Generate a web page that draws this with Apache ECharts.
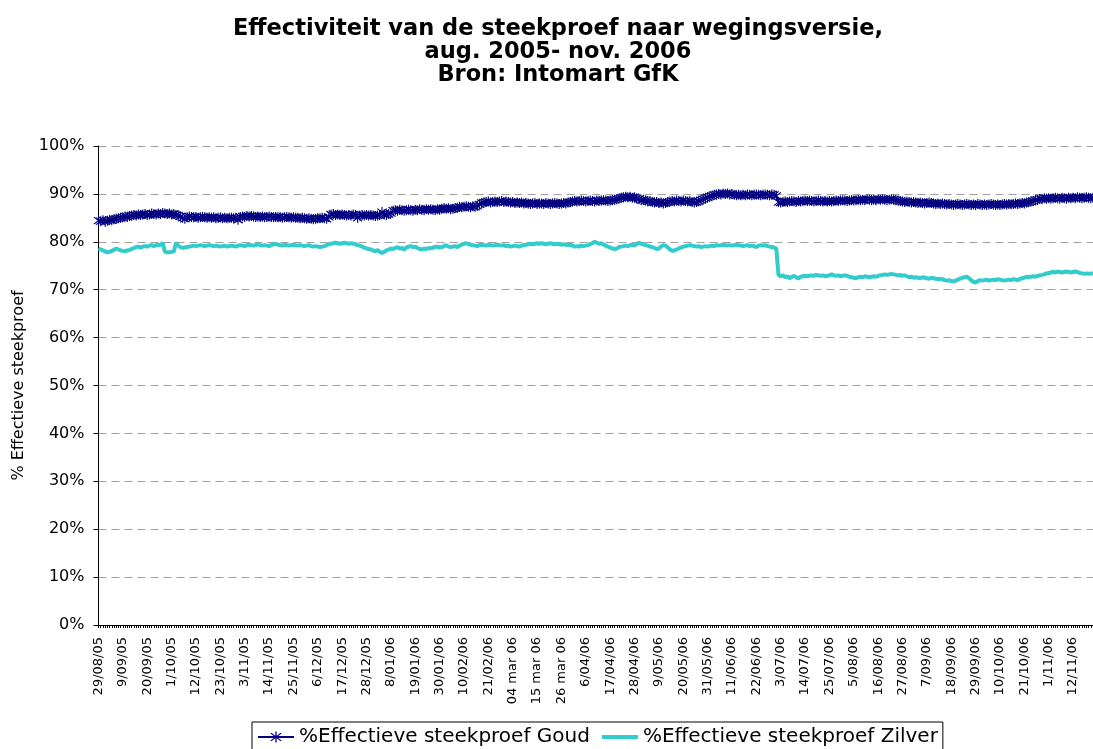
<!DOCTYPE html>
<html>
<head>
<meta charset="utf-8">
<script src="https://cdn.jsdelivr.net/npm/echarts@6/dist/echarts.min.js"></script>
<style>
html,body{margin:0;padding:0;background:#fff;}
#chart{width:1093px;height:749px;}
</style>
</head>
<body>
<div id="chart"></div>
<script>
const titleLines = ['Effectiviteit van de steekproef naar wegingsversie,', 'aug. 2005- nov. 2006', 'Bron: Intomart GfK'];
const seriesNames = ['%Effectieve steekproef Goud', '%Effectieve steekproef Zilver'];
const yAxisName = '% Effectieve steekproef';
const tickLabels = ['29/08/05','9/09/05','20/09/05','1/10/05','12/10/05','23/10/05','3/11/05','14/11/05','25/11/05','6/12/05','17/12/05','28/12/05','8/01/06','19/01/06','30/01/06','10/02/06','21/02/06','04 mar 06','15 mar 06','26 mar 06','6/04/06','17/04/06','28/04/06','9/05/06','20/05/06','31/05/06','11/06/06','22/06/06','3/07/06','14/07/06','25/07/06','5/08/06','16/08/06','27/08/06','7/09/06','18/09/06','29/09/06','10/10/06','21/10/06','1/11/06','12/11/06'];

// daily values, 29/08/05 onwards
const goud = [
84.4,84.3,84.5,84.2,84.4,84.6,84.5,84.7,84.8,84.9,
85.0,85.1,85.3,85.2,85.4,85.5,85.6,85.5,85.7,85.6,
85.7,85.8,85.6,85.7,85.9,85.8,85.7,85.9,85.8,86.0,
85.9,85.8,85.9,85.7,85.8,85.6,85.5,85.3,85.0,84.8,
85.1,85.3,85.2,85.1,85.2,85.0,85.1,85.2,85.1,85.0,
85.1,85.0,85.1,84.9,85.0,85.1,84.9,85.0,84.9,85.0,
85.0,84.9,85.0,84.6,85.2,85.3,85.2,85.4,85.3,85.4,
85.3,85.2,85.3,85.2,85.3,85.1,85.2,85.3,85.2,85.1,
85.2,85.1,85.2,85.0,85.1,85.2,85.1,85.0,85.1,85.0,
85.0,84.9,85.0,84.9,84.8,84.9,84.8,84.7,84.8,84.9,
84.9,85.0,84.9,84.8,85.2,85.7,85.8,85.6,85.7,85.6,
85.7,85.6,85.5,85.6,85.5,85.7,85.6,85.0,85.5,85.6,
85.5,85.6,85.5,85.6,85.5,85.4,85.5,85.6,86.2,85.7,
85.6,85.8,86.0,86.5,86.6,86.5,86.7,86.6,86.5,86.6,
86.7,86.6,86.5,86.7,86.6,86.8,86.7,86.6,86.8,86.7,
86.8,86.7,86.6,86.8,86.7,86.9,87.0,86.9,87.0,86.8,
86.9,87.0,87.1,87.3,87.2,87.3,87.4,87.3,87.2,87.4,
87.3,87.5,87.8,88.1,88.2,88.3,88.4,88.2,88.3,88.4,
88.3,88.4,88.5,88.3,88.4,88.3,88.2,88.3,88.1,88.2,
88.1,88.2,88.0,88.1,88.0,87.9,88.0,88.1,87.9,88.0,
88.0,87.9,88.1,88.0,87.9,88.0,88.1,88.0,87.9,88.0,
88.1,88.0,88.2,88.3,88.4,88.5,88.4,88.5,88.6,88.5,
88.4,88.5,88.6,88.5,88.4,88.6,88.5,88.6,88.7,88.6,
88.5,88.6,88.7,88.8,88.9,89.0,89.2,89.3,89.4,89.3,
89.4,89.2,89.3,89.1,88.9,88.7,88.8,88.6,88.4,88.5,
88.3,88.2,88.3,88.1,88.2,88.0,88.1,88.3,88.4,88.5,
88.4,88.6,88.5,88.4,88.6,88.5,88.4,88.5,88.3,88.2,
88.3,88.5,88.7,88.9,89.1,89.3,89.5,89.6,89.8,89.9,
90.0,89.9,90.1,90.0,90.1,89.9,90.0,89.8,89.7,89.8,
89.7,89.8,89.7,89.9,89.8,89.7,89.8,89.9,89.8,89.7,
89.8,89.9,89.8,89.7,89.9,89.8,89.6,88.3,88.2,88.3,
88.4,88.3,88.4,88.5,88.4,88.3,88.5,88.4,88.5,88.6,
88.5,88.6,88.5,88.4,88.5,88.6,88.5,88.4,88.5,88.4,
88.5,88.4,88.5,88.6,88.5,88.6,88.7,88.6,88.5,88.6,
88.7,88.6,88.7,88.8,88.7,88.8,88.7,88.9,88.8,88.7,
88.8,88.7,88.9,88.8,88.9,88.8,88.7,88.8,88.9,88.8,
88.7,88.6,88.5,88.4,88.3,88.4,88.3,88.2,88.3,88.2,
88.1,88.2,88.1,88.0,88.1,88.2,88.1,88.0,87.9,88.0,
87.9,88.0,87.9,87.8,87.9,87.8,87.7,87.8,87.9,87.8,
87.7,87.8,87.9,87.8,87.7,87.8,87.7,87.9,87.8,87.7,
87.8,87.7,87.8,87.9,87.8,87.7,87.8,87.7,87.8,87.9,
87.8,87.9,87.8,87.9,88.0,87.9,88.0,88.1,88.0,88.2,
88.3,88.4,88.5,88.7,88.8,89.0,88.9,89.1,89.0,89.1,
89.0,89.1,89.2,89.1,89.0,89.2,89.1,89.0,89.2,89.1,
89.2,89.1,89.3,89.2,89.1,89.2,89.3,89.2,89.1,89.2
];
const zilver = [
78.6,78.4,78.2,78.0,77.8,77.9,78.1,78.3,78.6,78.4,
78.2,78.1,78.0,78.2,78.3,78.5,78.7,78.9,79.0,78.8,
79.0,79.1,79.0,79.2,79.3,79.1,79.3,79.4,79.3,79.8,
77.9,77.8,77.8,77.9,78.0,79.8,79.2,78.9,78.7,78.8,
78.9,79.0,79.1,79.2,79.1,79.2,79.3,79.2,79.1,79.2,
79.3,79.2,79.1,79.2,79.1,79.0,79.1,79.2,79.0,79.1,
79.2,79.1,79.0,79.2,79.3,79.2,79.1,79.3,79.4,79.3,
79.2,79.3,79.5,79.3,79.2,79.3,79.2,79.1,79.3,79.5,
79.6,79.4,79.3,79.2,79.4,79.3,79.2,79.3,79.4,79.3,
79.2,79.3,79.2,79.1,79.2,79.3,79.1,79.0,79.1,79.0,
78.9,79.0,79.1,79.3,79.5,79.6,79.7,79.8,79.7,79.6,
79.7,79.8,79.7,79.6,79.7,79.6,79.5,79.3,79.2,79.0,
78.8,78.6,78.5,78.4,78.2,78.0,78.3,77.9,77.7,77.9,
78.2,78.4,78.6,78.5,78.7,78.9,78.6,78.7,78.4,78.8,
79.0,79.1,78.9,79.0,78.7,78.5,78.4,78.6,78.5,78.7,
78.6,78.8,78.9,79.0,78.8,78.9,79.1,79.3,79.0,78.9,
79.0,79.1,78.9,79.2,79.4,79.6,79.7,79.5,79.4,79.3,
79.2,79.1,79.3,79.4,79.3,79.2,79.4,79.3,79.2,79.3,
79.4,79.3,79.2,79.3,79.1,79.2,79.0,79.1,79.2,79.1,
79.0,79.2,79.3,79.4,79.5,79.6,79.5,79.6,79.7,79.6,
79.7,79.6,79.5,79.6,79.7,79.6,79.5,79.6,79.5,79.4,
79.5,79.4,79.3,79.4,79.2,79.0,79.1,79.0,79.2,79.1,
79.2,79.3,79.5,79.7,80.0,79.8,79.6,79.7,79.4,79.2,
79.0,78.8,78.6,78.5,78.6,78.9,79.0,79.1,79.2,79.1,
79.3,79.4,79.2,79.5,79.8,79.6,79.5,79.3,79.2,79.0,
78.9,78.7,78.5,78.6,79.0,79.3,79.2,78.8,78.4,78.1,
78.2,78.4,78.6,78.8,79.0,79.1,79.2,79.3,79.2,79.1,
79.0,79.1,78.9,79.0,79.1,79.0,79.1,79.2,79.1,79.3,
79.2,79.3,79.4,79.3,79.2,79.3,79.2,79.3,79.4,79.3,
79.2,79.1,79.2,79.3,79.1,79.2,79.1,78.9,79.2,79.3,
79.2,79.3,79.1,79.0,78.9,78.8,78.6,73.1,72.8,73.0,
72.6,72.8,72.4,72.7,72.9,72.6,72.3,72.7,72.8,72.9,
72.8,72.9,73.0,72.9,73.1,73.0,72.9,73.0,72.8,72.9,
73.0,73.2,73.0,72.9,73.0,72.8,72.9,73.0,72.9,72.7,
72.6,72.5,72.4,72.6,72.7,72.6,72.8,72.7,72.6,72.7,
72.8,72.7,72.9,73.0,73.1,73.2,73.1,73.2,73.3,73.2,
73.1,73.0,73.1,72.9,73.0,72.8,72.6,72.7,72.5,72.6,
72.5,72.4,72.6,72.5,72.4,72.3,72.5,72.4,72.3,72.2,
72.3,72.2,72.0,71.9,72.0,71.8,71.7,71.9,72.1,72.3,
72.5,72.6,72.7,72.4,72.0,71.6,71.5,71.8,72.0,71.9,
72.0,72.1,71.9,72.0,72.1,72.0,72.2,72.1,72.0,71.9,
72.0,72.1,72.0,72.2,72.1,72.0,72.2,72.4,72.5,72.7,
72.6,72.7,72.8,72.7,72.9,73.0,73.1,73.2,73.4,73.5,
73.6,73.7,73.6,73.8,73.7,73.6,73.7,73.8,73.7,73.6,
73.7,73.8,73.7,73.5,73.4,73.3,73.4,73.3,73.4,73.3
];

// one category per day starting 29 Aug 2005
const categories = goud.map(function (_, i) {
  const d = new Date(Date.UTC(2005, 7, 29 + i));
  return d.getUTCDate() + '/' + String(d.getUTCMonth() + 1).padStart(2, '0') + '/' + String(d.getUTCFullYear()).slice(2);
});

const starPath = 'path://M45 0L55 0L55 100L45 100Z M7 19L14 11L93 81L86 89Z M14 89L7 81L86 11L93 19Z';
const barPath = 'path://M0 0L360 0L360 40L0 40Z';
const FONT = 'DejaVu Sans';

const chart = echarts.init(document.getElementById('chart'), null, {renderer: 'canvas'});
chart.setOption({
  backgroundColor: '#ffffff',
  animation: false,
  title: {
    text: titleLines.join('\n'),
    left: 558,
    top: 18,
    padding: 0,
    textAlign: 'center',
    textStyle: {fontFamily: FONT, fontWeight: 'bold', fontSize: 22.5, lineHeight: 23, color: '#000'}
  },
  legend: {
    data: [
      {name: seriesNames[0]},
      {name: seriesNames[1], icon: barPath}
    ],
    left: 252,
    top: 722,
    padding: [5, 5, 5, 5],
    itemGap: 12,
    itemWidth: 36,
    itemHeight: 14,
    borderColor: '#000',
    borderWidth: 1,
    textStyle: {fontFamily: FONT, fontSize: 20, color: '#000'}
  },
  grid: {left: 98.5, top: 146, width: 1000, height: 479, containLabel: false},
  xAxis: {
    type: 'category',
    data: categories,
    boundaryGap: false,
    axisLine: {lineStyle: {color: '#000', width: 1}},
    axisTick: {show: true, interval: 0, length: 3, lineStyle: {color: '#000', width: 1}},
    axisLabel: {
      interval: 10,
      rotate: 90,
      margin: 12,
      hideOverlap: false,
      fontFamily: FONT,
      fontSize: 13,
      color: '#000',
      formatter: function (v, idx) { return tickLabels[Math.round(idx / 11)] || ''; }
    },
    splitLine: {show: false}
  },
  yAxis: {
    type: 'value',
    min: 0, max: 100, interval: 10,
    name: yAxisName,
    nameLocation: 'middle',
    nameRotate: 90,
    nameGap: 72,
    nameTextStyle: {fontFamily: FONT, fontSize: 16, color: '#000'},
    axisLine: {show: true, lineStyle: {color: '#000', width: 1}},
    axisTick: {show: true, length: 5, lineStyle: {color: '#000'}},
    axisLabel: {fontFamily: FONT, fontSize: 16, color: '#000', margin: 14, formatter: '{value}%'},
    splitLine: {show: true, lineStyle: {color: '#a0a0a0', type: [8, 5], width: 1}}
  },
  series: [
    {
      name: seriesNames[0],
      type: 'line',
      data: goud,
      color: '#000080',
      symbol: starPath,
      symbolSize: 10,
      showAllSymbol: true,
      lineStyle: {color: '#000080', width: 2},
      itemStyle: {color: '#000080'},
      z: 3
    },
    {
      name: seriesNames[1],
      type: 'line',
      data: zilver,
      color: '#33CCCC',
      symbol: 'none',
      lineStyle: {color: '#33CCCC', width: 4},
      itemStyle: {color: '#33CCCC'},
      z: 2
    }
  ]
});
</script>
</body>
</html>
